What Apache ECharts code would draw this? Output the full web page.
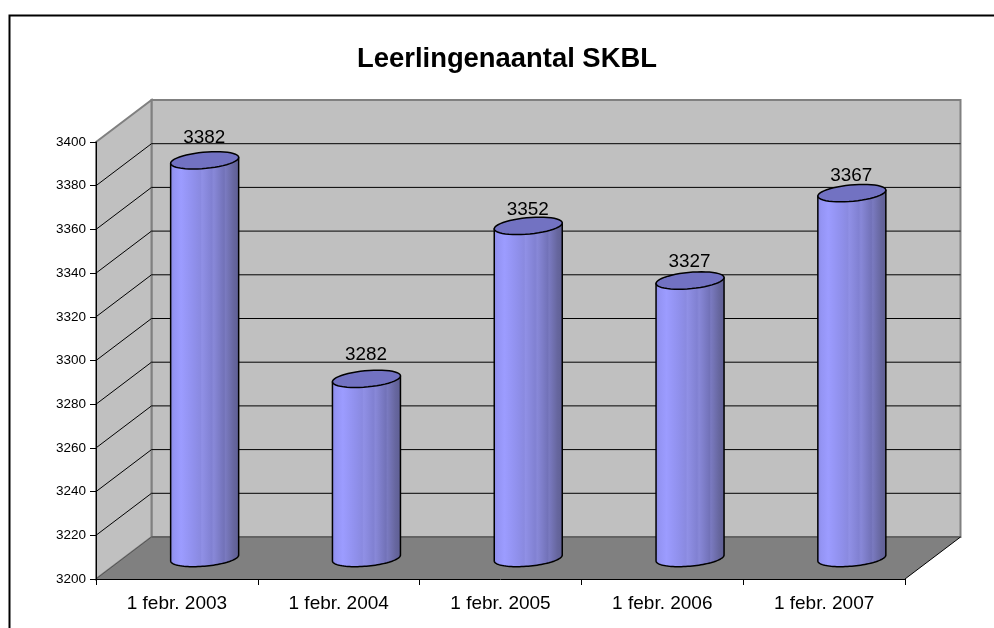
<!DOCTYPE html>
<html>
<head>
<meta charset="utf-8">
<title>Leerlingenaantal SKBL</title>
<script src="https://cdn.jsdelivr.net/npm/echarts@6/dist/echarts.min.js"></script>
<style>
  html, body { margin: 0; padding: 0; background: #fff; }
  #chart { width: 994px; height: 628px; }
</style>
</head>
<body>
<div id="chart"></div>
<script>
const categories = ['1 febr. 2003', '1 febr. 2004', '1 febr. 2005', '1 febr. 2006', '1 febr. 2007']
const students = [3382, 3282, 3352, 3327, 3367]
const yTicks = [3200, 3220, 3240, 3260, 3280, 3300, 3320, 3340, 3360, 3380, 3400]

const FONT = '"Liberation Sans", Arial, sans-serif'
// oblique depth of the fake 3D box, front plane -> back wall
const DEPTH_X = 55.5
const DEPTH_Y = 42
// excel nudged each data label by hand, so these differ per bar
const labelLift = [22.3, 24, 16.5, 18.7, 17.5]
const CYL_R = 32
const CYL_DX = 11.5
const CYL_DY = 8.7

const bodyFill = new echarts.graphic.LinearGradient(0, 0, 1, 0, [
  { offset: 0, color: '#8a8ae2' },
  { offset: 0.06, color: '#9494f4' },
  { offset: 0.16, color: '#9c9cff' },
  { offset: 0.34, color: '#9090ec' },
  { offset: 0.44, color: '#8a8ae0' },
  { offset: 0.46, color: '#9090e6' },
  { offset: 0.6, color: '#8181d2' },
  { offset: 0.63, color: '#8888d8' },
  { offset: 0.78, color: '#7272b8' },
  { offset: 0.8, color: '#7a7ac0' },
  { offset: 0.92, color: '#66669e' },
  { offset: 1, color: '#5e5e92' }
])

function ellipsePoint(cx, cy, t) {
  return [
    cx + CYL_R * Math.cos(t) + CYL_DX * Math.sin(t),
    cy - CYL_DY * Math.sin(t)
  ]
}

// angle where the oblique circle reaches its far right, far left is half a turn on
const tangent = Math.atan2(CYL_DX, CYL_R)

function arcPoints(cx, cy, from, to) {
  const pts = []
  for (let i = 0; i <= 48; i++) {
    pts.push(ellipsePoint(cx, cy, from + (to - from) * i / 48))
  }
  return pts
}

function renderWalls(params, api) {
  const c = params.coordSys
  const fl = c.x, fr = c.x + c.width, ft = c.y, fb = c.y + c.height
  const bl = fl + DEPTH_X, br = fr + DEPTH_X, bt = ft - DEPTH_Y, bb = fb - DEPTH_Y
  const edge = { stroke: '#808080', lineWidth: 2, fill: '#c0c0c0' }
  return {
    type: 'group',
    children: [
      { type: 'polygon', shape: { points: [[bl, bt], [br, bt], [br, bb], [bl, bb]] }, style: edge },
      { type: 'polygon', shape: { points: [[fl, ft], [bl, bt], [bl, bb], [fl, fb]] }, style: edge },
      { type: 'polygon', shape: { points: [[fl, fb], [bl, bb], [br, bb], [fr, fb]] }, style: { fill: '#808080', stroke: null } },
      { type: 'line', shape: { x1: bl, y1: bb, x2: br, y2: bb }, style: { stroke: '#5a5a5a', lineWidth: 1.5 } },
      { type: 'line', shape: { x1: fr, y1: fb, x2: br, y2: bb }, style: { stroke: '#000', lineWidth: 1 } },
      { type: 'line', shape: { x1: fl, y1: fb, x2: bl, y2: bb }, style: { stroke: '#555', lineWidth: 1 } }
    ]
  }
}

function renderGridLine(params, api) {
  const c = params.coordSys
  const y = api.coord([0, api.value(1)])[1]
  const fl = c.x
  const bl = fl + DEPTH_X
  const br = fl + c.width + DEPTH_X
  return {
    type: 'polyline',
    shape: { points: [[fl, y], [bl, y - DEPTH_Y], [br, y - DEPTH_Y]] },
    style: { stroke: '#000', lineWidth: 1, fill: null }
  }
}

function renderCylinder(params, api) {
  const idx = api.value(0)
  const top = api.coord([idx, api.value(1)])
  const base = api.coord([idx, yTicks[0]])
  const cx = top[0] + DEPTH_X / 2
  const topY = top[1] - DEPTH_Y / 2
  const baseY = base[1] - DEPTH_Y / 2
  const left = Math.PI + tangent
  const right = Math.PI * 2 + tangent
  // left tangent on top, down the side, under the base, back up the right side
  const outline = [ellipsePoint(cx, topY, left)]
    .concat(arcPoints(cx, baseY, left, right))
    .concat([ellipsePoint(cx, topY, right)])
  return {
    type: 'group',
    children: [
      {
        type: 'polygon',
        shape: { points: outline },
        style: { fill: bodyFill, stroke: '#000', lineWidth: 1.5, lineJoin: 'round' }
      },
      {
        type: 'polygon',
        shape: { points: arcPoints(cx, topY, 0, Math.PI * 2) },
        style: { fill: '#7272c2', stroke: '#000', lineWidth: 1.5 }
      },
      {
        type: 'text',
        style: {
          x: cx - 0.5,
          y: topY - labelLift[params.dataIndex],
          text: String(api.value(1)),
          font: '18.9px ' + FONT,
          fill: '#000',
          align: 'center',
          verticalAlign: 'middle'
        }
      }
    ]
  }
}

const chart = echarts.init(document.getElementById('chart'), null, { renderer: 'canvas' })
chart.setOption({
  animation: false,
  backgroundColor: '#fff',
  title: {
    text: 'Leerlingenaantal SKBL',
    left: 502,
    top: 41,
    textAlign: 'center',
    textStyle: { fontFamily: FONT, fontSize: 27.4, fontWeight: 'bold', color: '#000' }
  },
  graphic: [
    { type: 'polyline', silent: true, shape: { points: [[9.5, 628], [9.5, 15.5], [994, 15.5]] }, style: { stroke: '#000', lineWidth: 2, fill: null } }
  ],
  grid: { left: 96, right: 89, top: 142, bottom: 49 },
  xAxis: {
    type: 'category',
    data: categories,
    z: 10,
    axisLine: { lineStyle: { color: '#000', width: 1 } },
    axisTick: { show: true, length: 6, lineStyle: { color: '#000' } },
    axisLabel: { color: '#000', fontFamily: FONT, fontSize: 19, margin: 15 }
  },
  yAxis: {
    type: 'value',
    min: 3200,
    max: 3400,
    interval: 20,
    z: 10,
    axisLine: { show: true, lineStyle: { color: '#000', width: 1 } },
    axisTick: { show: true, length: 6, lineStyle: { color: '#000' } },
    axisLabel: { color: '#000', fontFamily: FONT, fontSize: 13.5, margin: 10, padding: [2, 0, 0, 0], formatter: (v) => String(v) },
    splitLine: { show: false }
  },
  series: [
    { type: 'custom', z: 1, silent: true, renderItem: renderWalls, data: [[0, yTicks[0]]], encode: { x: 0, y: 1 } },
    {
      type: 'custom',
      z: 2,
      silent: true,
      renderItem: renderGridLine,
      data: yTicks.slice(1, -1).map((t) => [0, t]),
      encode: { x: 0, y: 1 }
    },
    {
      type: 'custom',
      z: 4,
      name: 'Leerlingen',
      renderItem: renderCylinder,
      data: students.map((v, i) => [i, v]),
      encode: { x: 0, y: 1 }
    }
  ]
})
</script>
</body>
</html>
